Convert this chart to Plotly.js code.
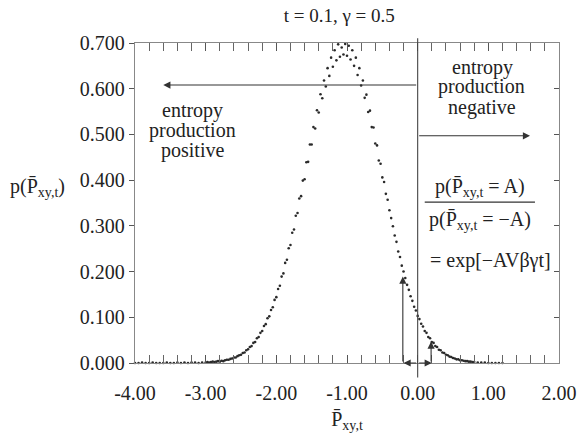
<!DOCTYPE html>
<html><head><meta charset="utf-8">
<script src="https://cdn.plot.ly/plotly-3.0.1.min.js"></script>
<style>html,body{margin:0;padding:0;background:#fff}#chart{width:580px;height:434px}</style>
</head><body><div id="chart"></div>
<script>
// Histogram points of P̄xy,t
const pxLeftTail = [-4.00,-3.95,-3.90,-3.85,-3.80,-3.75,-3.70,-3.65,-3.60,-3.55,-3.50,-3.45,-3.40,-3.35,-3.30,-3.25,-3.20,-3.15,-3.10,-3.05];
const pyLeftTail = [0.000,0.000,0.001,0.000,0.000,0.001,0.000,0.000,0.000,0.001,0.000,0.000,0.001,0.000,0.001,0.000,0.001,0.001,0.000,0.001];
const pxMain = [-3.000,-2.975,-2.950,-2.925,-2.900,-2.875,-2.850,-2.825,-2.800,-2.775,-2.750,-2.725,-2.700,-2.675,-2.650,-2.625,-2.600,-2.575,-2.550,-2.525,
-2.500,-2.475,-2.450,-2.425,-2.400,-2.375,-2.350,-2.325,-2.300,-2.275,-2.250,-2.225,-2.200,-2.175,-2.150,-2.125,-2.100,-2.075,-2.050,-2.025,
-2.000,-1.975,-1.950,-1.925,-1.900,-1.875,-1.850,-1.825,-1.800,-1.775,-1.750,-1.725,-1.700,-1.675,-1.650,-1.625,-1.600,-1.575,-1.550,-1.525,
-1.500,-1.475,-1.450,-1.425,-1.400,-1.375,-1.350,-1.325,-1.300,-1.275,-1.250,-1.225,-1.200,-1.175,-1.150,-1.125,-1.100,-1.075,-1.050,-1.025,
-1.000,-0.975,-0.950,-0.925,-0.900,-0.875,-0.850,-0.825,-0.800,-0.775,-0.750,-0.725,-0.700,-0.675,-0.650,-0.625,-0.600,-0.575,-0.550,-0.525,
-0.500,-0.475,-0.450,-0.425,-0.400,-0.375,-0.350,-0.325,-0.300,-0.275,-0.250,-0.225,-0.200,-0.175,-0.150,-0.125,-0.100,-0.075,-0.050,-0.025,
0.000,0.025,0.050,0.075,0.100,0.125,0.150,0.175,0.200,0.225,0.250,0.275,0.300,0.325,0.350,0.375,0.400,0.425,0.450,0.475,
0.500,0.525,0.550,0.575,0.600,0.625,0.650,0.675,0.700,0.725,0.750,0.775,0.800];
const pyMain = [0.001,0.002,0.001,0.002,0.003,0.002,0.003,0.004,0.003,0.005,0.004,0.006,0.007,0.007,0.009,0.010,0.012,0.012,0.015,0.017,
0.018,0.022,0.023,0.028,0.030,0.035,0.037,0.044,0.046,0.054,0.057,0.066,0.070,0.081,0.085,0.098,0.102,0.116,0.122,0.138,
0.144,0.162,0.169,0.189,0.196,0.219,0.226,0.251,0.258,0.285,0.292,0.322,0.328,0.360,0.365,0.399,0.402,0.439,0.440,0.478,
0.478,0.516,0.513,0.553,0.548,0.588,0.579,0.618,0.605,0.645,0.628,0.668,0.648,0.684,0.662,0.697,0.670,0.690,0.675,0.698,
0.672,0.694,0.664,0.684,0.650,0.668,0.630,0.645,0.607,0.618,0.580,0.587,0.549,0.552,0.516,0.515,0.480,0.476,0.443,0.436,
0.406,0.396,0.370,0.357,0.334,0.317,0.299,0.279,0.265,0.244,0.232,0.213,0.200,0.186,0.171,0.160,0.146,0.136,0.123,0.115,
0.103,0.096,0.086,0.080,0.070,0.066,0.057,0.054,0.046,0.044,0.037,0.035,0.029,0.028,0.023,0.022,0.018,0.017,0.014,0.013,
0.011,0.010,0.008,0.008,0.006,0.006,0.005,0.004,0.004,0.003,0.003,0.002,0.002];
const pxRightTail = [0.85,0.90,0.95,1.00,1.05,1.10,1.15,1.20];
const pyRightTail = [0.001,0.001,0.001,0.000,0.000,0.000,0.000,0.000];

const xTickVals = [-4,-3,-2,-1,0,1,2];
const xTickText = ['-4.00','-3.00','-2.00','-1.00','0.00','1.00','2.00'];
const yTickVals = [0,0.1,0.2,0.3,0.4,0.5,0.6,0.7];
const yTickText = ['0.000','0.100','0.200','0.300','0.400','0.500','0.600','0.700'];

// arrow anchor values (data units)
const arrowLeft = {tail:[0,0.608], head:[-3.6,0.608]};
const arrowRight = {tail:[0,0.497], head:[1.59,0.497]};
const arrowUpA = {tail:[-0.21,0], head:[-0.21,0.189]};
const arrowUpB = {tail:[0.19,0], head:[0.19,0.047]};
const arrowBaseL = {tail:[0,0], head:[-0.2,0]};
const arrowBaseR = {tail:[0,0], head:[0.2,0]};

const FONT = 'Liberation Serif, Times New Roman, serif';
const P = 'P\u0304';

const xs = pxLeftTail.concat(pxMain, pxRightTail);
const ys = pyLeftTail.concat(pyMain, pyRightTail);

const trace = {x: xs, y: ys, type:'scatter', mode:'markers', cliponaxis:false,
  marker:{size:2.6, color:'#2a2a2a'}, hoverinfo:'skip'};
const trace2 = {x:[-4,2], y:[0,0], yaxis:'y2', mode:'markers', marker:{opacity:0}, hoverinfo:'skip', showlegend:false};

function arrow(a){
  return {x:a.head[0], y:a.head[1], ax:a.tail[0], ay:a.tail[1], xref:'x', yref:'y', axref:'x', ayref:'y',
    text:'', showarrow:true, arrowhead:2, arrowsize:1.3, arrowwidth:1.1, arrowcolor:'#333', standoff:0, startstandoff:0};
}
function txt(s, x, y){
  return {x:x, y:y, xref:'x', yref:'y', text:s, showarrow:false, font:{family:FONT, size:20, color:'#222'}, xanchor:'center', yanchor:'middle'};
}

const annotations = [
  arrow(arrowLeft), arrow(arrowRight), arrow(arrowUpA), arrow(arrowUpB), arrow(arrowBaseL), arrow(arrowBaseR),
  txt('entropy', 0.92, 0.6475), txt('production', 0.91, 0.604), txt('negative', 0.91, 0.560),
  txt('entropy', -3.19, 0.552), txt('production', -3.19, 0.508), txt('positive', -3.19, 0.464),
  txt('p('+P+'<sub>xy,t</sub> = A)', 0.88, 0.383),
  txt('p('+P+'<sub>xy,t</sub> = \u2212A)', 0.88, 0.312),
  txt('= exp[\u2212AV\u03B2\u03B3t]', 1.03, 0.225),
  {x:-0.229, y:0.55, xref:'paper', yref:'paper', text:'p('+P+'<sub>xy,t</sub>)', showarrow:false,
   font:{family:FONT, size:20, color:'#222'}, xanchor:'center', yanchor:'middle'}
];

const shapes = [
  {type:'line', xref:'x', yref:'paper', x0:0, x1:0, y0:-0.045, y1:1.015, line:{color:'#444', width:1.1}},
  {type:'line', xref:'x', yref:'y', x0:0.10, x1:1.66, y0:0.352, y1:0.352, line:{color:'#333', width:1.1}},
  {type:'line', xref:'x', yref:'y', x0:-0.21, x1:-0.21, y0:0, y1:0.0, line:{color:'#333', width:1}}
];

const layout = {
  width:580, height:434, paper_bgcolor:'#fff', plot_bgcolor:'#fff',
  margin:{l:135, r:21, t:43, b:71},
  showlegend:false,
  font:{family:FONT, size:20, color:'#222'},
  title:{text:'t = 0.1, \u03B3 = 0.5', font:{family:FONT, size:19, color:'#222'}, x:0.585, xref:'container', xanchor:'center', y:0.965, yref:'container', yanchor:'middle'},
  xaxis:{range:[-4,2], tickvals:xTickVals, ticktext:xTickText, ticks:'inside', ticklen:8, tickwidth:1, tickcolor:'#555',
    showline:true, linecolor:'#888', linewidth:1.2, mirror:'allticks', showgrid:false, zeroline:false,
    minor:{dtick:0.2, ticks:'inside', ticklen:4, tickcolor:'#666', showgrid:false},
    ticklabelstandoff:12, tickfont:{family:FONT, size:20, color:'#222'},
    title:{text:P+'<sub>xy,t</sub>', font:{family:FONT, size:20, color:'#222'}, standoff:8}},
  yaxis:{range:[0,0.7], tickvals:yTickVals, ticktext:yTickText, ticks:'outside', ticklen:5, tickcolor:'#555',
    showline:true, linecolor:'#888', linewidth:1.2, mirror:true, showgrid:false, zeroline:false,
    tickfont:{family:FONT, size:20, color:'#222'}},
  yaxis2:{range:[0,0.7], overlaying:'y', side:'right', tickvals:yTickVals, ticks:'inside', ticklen:5, tickcolor:'#555',
    showticklabels:false, showline:false, showgrid:false, zeroline:false},
  annotations:annotations, shapes:shapes
};

Plotly.newPlot('chart', [trace, trace2], layout, {displayModeBar:false, staticPlot:true});
</script></body></html>
